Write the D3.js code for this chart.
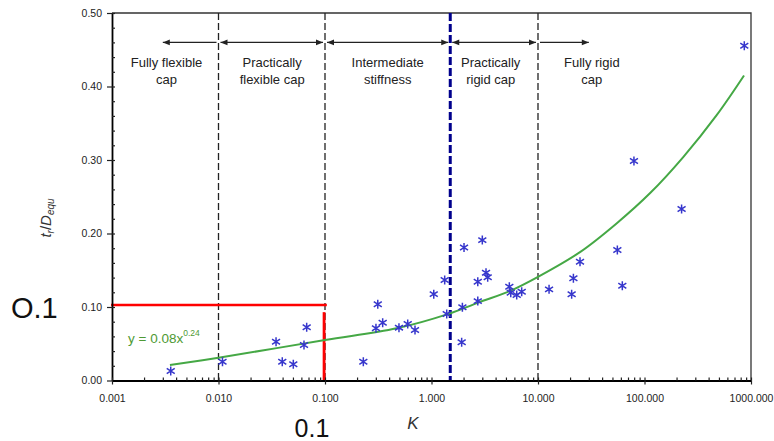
<!DOCTYPE html>
<html><head><meta charset="utf-8">
<script src="https://cdn.jsdelivr.net/npm/d3@7"></script>
<style>
html,body{margin:0;padding:0;background:#fff;}
svg{display:block;font-family:"Liberation Sans",Arial,sans-serif;}
</style></head>
<body>
<svg id="chart" width="774" height="441"></svg>
<script>
// ---- data ----
const kValues  = [0.00356,0.0109,0.0347,0.0397,0.0504,0.0635,0.0673,0.229,0.301,0.313,0.348,0.495,0.598,0.700,
                  1.05,1.33,1.39,1.92,1.95,2.02,2.72,2.72,3.0,3.25,3.37,5.38,5.55,6.31,7.03,12.7,20.7,21.5,24.8,55.6,61.9,79.6,223,865];
const trValues = [0.013,0.0256,0.0528,0.0256,0.022,0.0483,0.0724,0.0256,0.071,0.1037,0.0787,0.0719,0.0769,0.0687,
                  0.1175,0.1367,0.0905,0.052,0.0996,0.181,0.1344,0.108,0.191,0.1467,0.1404,0.1276,0.1195,0.1163,0.1208,0.124,0.1173,0.139,0.1616,0.1776,0.129,0.2986,0.2333,0.4555];
const fitK = [0.0035,0.01,0.1,0.47,1.4,2.75,5.5,10,25,55,113,231,476,860];
const fitY = [0.021,0.031,0.055,0.071,0.090,0.106,0.122,0.141,0.175,0.214,0.255,0.304,0.361,0.415];
const xTickValues = [0.001,0.01,0.1,1,10,100,1000];
const yTickValues = [0,0.1,0.2,0.3,0.4,0.5];
const dashedK = [0.01,0.1,10];
const blueK = 1.5;
const arrowSegs = [[0.003,0.01,"start"],[0.01,0.1,"both"],[0.1,1.5,"both"],[1.5,10,"both"],[10,30,"end"]];
const regionK = [0.00325,0.0319,0.388,3.6,32];
const regionLine1 = ["Fully flexible","Practically","Intermediate","Practically","Fully rigid"];
const regionLine2 = ["cap","flexible cap","stiffness","rigid cap","cap"];
const redHK = [0.00098,0.104], redHY = 0.1027;
const redVK = 0.098, redVY = [0.093,0];

// ---- layout ----
const svg = d3.select("#chart");
const x = d3.scaleLog().domain([0.001,1000]).range([112,751]);
const y = d3.scaleLinear().domain([0,0.5]).range([380.5,13]);
const axisCol = "#222";

// frame (top and right)
svg.append("path").attr("d",`M${x(0.001)},${y(0.5)}H${x(1000)}V${y(0)}`)
  .attr("fill","none").attr("stroke","#333").attr("stroke-width",1.3);

// vertical dashed lines
svg.selectAll("line.vd").data(dashedK).join("line").attr("class","vd")
  .attr("x1",d=>x(d)).attr("x2",d=>x(d)).attr("y1",y(0.5)).attr("y2",y(0))
  .attr("stroke","#222").attr("stroke-width",1.3).attr("stroke-dasharray","7,3");
svg.append("line").attr("x1",x(blueK)).attr("x2",x(blueK)).attr("y1",y(0.5)).attr("y2",y(0))
  .attr("stroke","#00008c").attr("stroke-width",3).attr("stroke-dasharray","8,3");

// arrows
const ay = y(0.46);
const gA = svg.append("g").attr("stroke","#222").attr("fill","#222");
arrowSegs.forEach(([a,b,heads])=>{
  const xa = heads==="start"? x(a) : x(a)+2, xb = heads==="end"? x(b) : x(b)-2;
  gA.append("line").attr("x1",xa).attr("x2",xb).attr("y1",ay).attr("y2",ay).attr("stroke-width",1.3);
  if(heads==="start"||heads==="both"){
    gA.append("path").attr("d",`M${xa},${ay}l7,-2.8v5.6z`).attr("stroke","none");
  }
  if(heads==="end"||heads==="both"){
    gA.append("path").attr("d",`M${xb},${ay}l-7,-2.8v5.6z`).attr("stroke","none");
  }
});

// region labels
const gR = svg.append("g").attr("font-size",13).attr("fill","#222").attr("text-anchor","middle");
regionK.forEach((k,i)=>{
  gR.append("text").attr("x",x(k)).attr("y",66.5).text(regionLine1[i]);
  gR.append("text").attr("x",x(k)).attr("y",83.5).text(regionLine2[i]);
});

// red annotation lines
svg.append("line").attr("x1",x(redHK[0])).attr("x2",x(redHK[1])).attr("y1",y(redHY)).attr("y2",y(redHY))
  .attr("stroke","#ff0000").attr("stroke-width",2.6);
svg.append("line").attr("x1",x(redVK)).attr("x2",x(redVK)).attr("y1",y(redVY[0])).attr("y2",y(redVY[1]))
  .attr("stroke","#ff0000").attr("stroke-width",2.8);

// fit curve
const fitData = fitK.map((k,i)=>[k,fitY[i]]);
svg.append("path").datum(fitData)
  .attr("d",d3.line().x(d=>x(d[0])).y(d=>y(d[1])).curve(d3.curveCatmullRom.alpha(0.5)))
  .attr("fill","none").attr("stroke","#45a845").attr("stroke-width",2);

// data points (asterisks)
const star = "M0,-4.5V4.5M-4,-2.6L4,2.6M-4,2.6L4,-2.6";
svg.append("g").selectAll("path").data(kValues.map((k,i)=>[k,trValues[i]])).join("path")
  .attr("transform",d=>`translate(${x(d[0])},${y(d[1])})`)
  .attr("d",star).attr("fill","none").attr("stroke","#3636cc").attr("stroke-width",1.5);

// axes
const fmtY = d=>d.toFixed(2);
const gy = svg.append("g").attr("transform",`translate(${x(0.001)},0)`)
  .call(d3.axisLeft(y).tickValues(yTickValues).tickFormat(fmtY).tickSize(5).tickSizeOuter(0).tickPadding(5));
const yMinor = d3.range(0,0.5001,0.02);
const gyi = svg.append("g").attr("transform",`translate(${x(0.001)},0)`)
  .call(d3.axisRight(y).tickValues(yMinor).tickFormat("").tickSize(3).tickSizeOuter(0));
const gx = svg.append("g").attr("transform",`translate(0,${y(0)})`)
  .call(d3.axisBottom(x).tickValues(xTickValues).tickFormat(d3.format(".3f")).tickSize(4).tickSizeOuter(0).tickPadding(10));
const xMinor = [];
[0.001,0.01,0.1,1,10,100].forEach(d=>{for(let m=1;m<=9;m++) xMinor.push(d*m);}); xMinor.push(1000);
const gxi = svg.append("g").attr("transform",`translate(0,${y(0)})`)
  .call(d3.axisTop(x).tickValues(xMinor).tickFormat("").tickSize(3).tickSizeOuter(0));
[gy,gyi,gx,gxi].forEach(g=>{
  g.selectAll("text").attr("font-size",10.5).attr("fill","#222").attr("font-family","Liberation Sans, Arial, sans-serif");
  g.selectAll("line").attr("stroke",axisCol).attr("stroke-width",1.2);
});
gyi.select(".domain").remove(); gxi.select(".domain").remove();
gy.select(".domain").attr("stroke","#000").attr("stroke-width",1.8);
gx.select(".domain").attr("stroke","#000").attr("stroke-width",1.8);

// axis titles
svg.append("text").attr("x",413).attr("y",429).attr("text-anchor","middle")
  .attr("font-size",17).attr("font-style","italic").attr("fill","#333").text("K");
const yt = svg.append("text").attr("transform","translate(51,218) rotate(-90)")
  .attr("text-anchor","middle").attr("font-size",15).attr("fill","#333").attr("font-style","italic");
yt.append("tspan").text("t");
yt.append("tspan").attr("font-size",10).attr("dy",3).text("r");
yt.append("tspan").attr("font-size",15).attr("dy",-3).attr("font-style","normal").text("/");
yt.append("tspan").attr("font-size",15).text("D");
yt.append("tspan").attr("font-size",10).attr("dy",3).text("equ");

// equation
const eq = svg.append("text").attr("x",128).attr("y",343).attr("font-size",13.5).attr("fill","#4e9a34");
eq.append("tspan").text("y = 0.08x");
eq.append("tspan").attr("font-size",8.5).attr("dy",-7).text("0.24");

// large annotation labels
svg.append("text").attr("x",11).attr("y",318).attr("font-size",29).attr("fill","#111").text("O.1");
svg.append("text").attr("x",312).attr("y",437).attr("text-anchor","middle").attr("font-size",25).attr("fill","#111").text("0.1");
</script>
</body></html>
